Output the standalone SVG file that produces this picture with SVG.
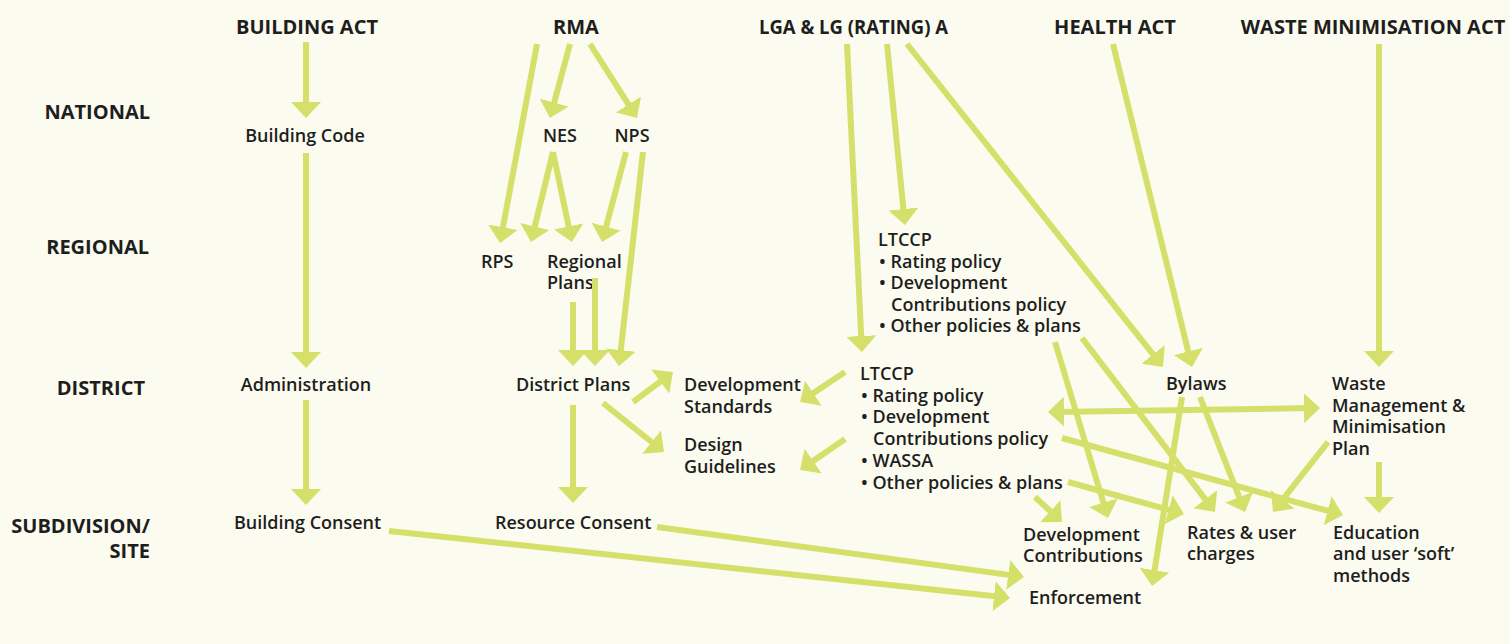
<svg xmlns="http://www.w3.org/2000/svg" width="1510" height="644" viewBox="0 0 1510 644">
<style>
.hd{font-family:"Open Sans","Liberation Sans",sans-serif;font-weight:700;font-size:20px;fill:#1e1e1e}
.lv{font-family:"Open Sans","Liberation Sans",sans-serif;font-weight:700;font-size:20px;fill:#1e1e1e;text-anchor:end}
.it{font-family:"Open Sans","Liberation Sans",sans-serif;font-weight:600;font-size:18px;fill:#1e1e1e}
.c{text-anchor:middle}
.ln{stroke:#d5e06b;stroke-width:6;fill:none;marker-end:url(#ah)}
</style>
<defs>
<marker id="ah" viewBox="0 0 16 30" refX="8" refY="15" markerWidth="16" markerHeight="30" markerUnits="userSpaceOnUse" orient="auto-start-reverse">
<path d="M0,0 L16,15 L0,30 Z" fill="#d5e06b"/>
</marker>
</defs>
<rect width="1510" height="644" fill="#fbfbef"/>

<g id="levels">
<text class="lv" x="150" y="119">NATIONAL</text>
<text class="lv" x="149" y="254">REGIONAL</text>
<text class="lv" x="145" y="395">DISTRICT</text>
<text class="lv" x="150" y="533">SUBDIVISION/</text>
<text class="lv" x="150" y="558">SITE</text>
</g>

<g id="building-act"><text class="hd c" x="307" y="34">BUILDING ACT</text></g>
<g id="rma"><text class="hd c" x="576" y="34">RMA</text></g>
<g id="lga"><text class="hd" x="759" y="34" textLength="189" lengthAdjust="spacingAndGlyphs">LGA &amp; LG (RATING) A</text></g>
<g id="health-act"><text class="hd c" x="1115" y="34">HEALTH ACT</text></g>
<g id="waste-act"><text class="hd c" x="1373" y="34">WASTE MINIMISATION ACT</text></g>

<g id="building-code"><text class="it c" x="305" y="142">Building Code</text></g>
<g id="nes"><text class="it c" x="560" y="142">NES</text></g>
<g id="nps"><text class="it c" x="632" y="142">NPS</text></g>

<g id="rps"><text class="it" x="481" y="268">RPS</text></g>
<g id="regional-plans"><text class="it" x="547" y="268">Regional</text><text class="it" x="547" y="289">Plans</text></g>
<g id="ltccp-regional">
<text class="it" x="878" y="246">LTCCP</text>
<text class="it" x="879" y="268">• Rating policy</text>
<text class="it" x="879" y="289">• Development</text>
<text class="it" x="891" y="311">Contributions policy</text>
<text class="it" x="879" y="332">• Other policies &amp; plans</text>
</g>

<g id="administration"><text class="it c" x="306" y="391">Administration</text></g>
<g id="district-plans"><text class="it" x="516" y="391">District Plans</text></g>
<g id="development-standards"><text class="it" x="684" y="391">Development</text><text class="it" x="684" y="413">Standards</text></g>
<g id="design-guidelines"><text class="it" x="684" y="451">Design</text><text class="it" x="684" y="473">Guidelines</text></g>
<g id="ltccp-district">
<text class="it" x="860" y="380">LTCCP</text>
<text class="it" x="861" y="402">• Rating policy</text>
<text class="it" x="861" y="423">• Development</text>
<text class="it" x="873" y="445">Contributions policy</text>
<text class="it" x="861" y="467">• WASSA</text>
<text class="it" x="861" y="489">• Other policies &amp; plans</text>
</g>
<g id="bylaws"><text class="it" x="1166" y="390">Bylaws</text></g>
<g id="waste-plan">
<text class="it" x="1332" y="390">Waste</text>
<text class="it" x="1332" y="412">Management &amp;</text>
<text class="it" x="1332" y="433">Minimisation</text>
<text class="it" x="1332" y="455">Plan</text>
</g>

<g id="building-consent"><text class="it" x="234" y="529">Building Consent</text></g>
<g id="resource-consent"><text class="it" x="495" y="529">Resource Consent</text></g>
<g id="development-contributions"><text class="it" x="1023" y="541">Development</text><text class="it" x="1023" y="562">Contributions</text></g>
<g id="enforcement"><text class="it" x="1029" y="604">Enforcement</text></g>
<g id="rates"><text class="it" x="1187" y="539">Rates &amp; user</text><text class="it" x="1187" y="560">charges</text></g>
<g id="education"><text class="it" x="1333" y="539">Education</text><text class="it" x="1333" y="560">and user ‘soft’</text><text class="it" x="1333" y="582">methods</text></g>

<g id="connectors">
<path class="ln" d="M306,42 L306,110"/>
<path class="ln" d="M306,153 L306,360"/>
<path class="ln" d="M306,400 L306,497"/>
<path class="ln" d="M537,44 L501.5,235.1"/>
<path class="ln" d="M570,44 L552.1,110.3"/>
<path class="ln" d="M590,44 L632.7,111.2"/>
<path class="ln" d="M553,152 L532.9,234.2"/>
<path class="ln" d="M553,152 L570.3,234.2"/>
<path class="ln" d="M626,152 L604.1,234.3"/>
<path class="ln" d="M643,152 L619.9,358"/>
<path class="ln" d="M573,302 L573,358"/>
<path class="ln" d="M595,278 L595,358"/>
<path class="ln" d="M633,402 L666.6,376.8"/>
<path class="ln" d="M603,403 L657.8,447"/>
<path class="ln" d="M573,405 L573,495"/>
<path class="ln" d="M845,372 L806.7,397.6"/>
<path class="ln" d="M845,439 L806.6,465.5"/>
<path class="ln" d="M847,44 L861.6,344"/>
<path class="ln" d="M887,44 L904.2,217"/>
<path class="ln" d="M907,44 L1158,360.7"/>
<path class="ln" d="M1113,44 L1190.1,359.2"/>
<path class="ln" d="M1379,44 L1379,359"/>
<path class="ln" d="M1056,411.9 L1312,408.1" marker-start="url(#ah)"/>
<path class="ln" d="M1055,342 L1105.7,510.3"/>
<path class="ln" d="M1082,338 L1210.1,505.6"/>
<path class="ln" d="M1200,397 L1242.1,504.6"/>
<path class="ln" d="M1328,442 L1277.9,505.6"/>
<path class="ln" d="M1182,397 L1153.3,578.1"/>
<path class="ln" d="M1062,438 L1335.3,512.9"/>
<path class="ln" d="M1068,482 L1176.3,511.9"/>
<path class="ln" d="M1035,497 L1056.1,516.6"/>
<path class="ln" d="M1379,462 L1379,505"/>
<path class="ln" d="M389,531 L1002,597.1"/>
<path class="ln" d="M657,527 L1016.1,575.9"/>
</g>
</svg>
